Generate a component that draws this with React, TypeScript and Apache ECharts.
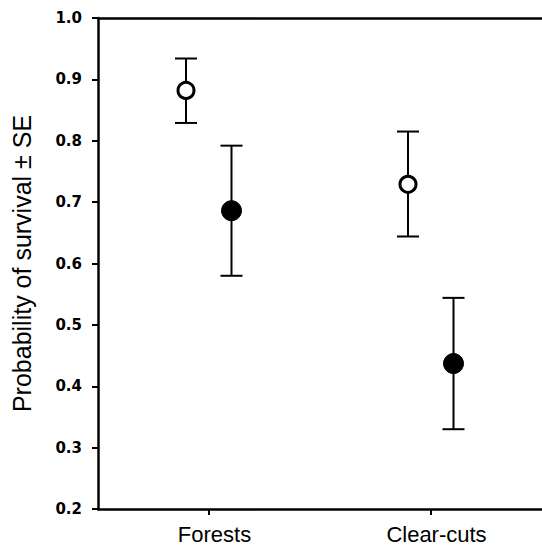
import React, { useEffect, useRef } from "react";
import * as echarts from "echarts";

const categories = ["Forests", "Clear-cuts"];
const yTicks = [0.2, 0.3, 0.4, 0.5, 0.6, 0.7, 0.8, 0.9, 1.0];

// open circles (first group)
const openMean = [0.882, 0.729];
const openLow = [0.829, 0.644];
const openHigh = [0.934, 0.815];

// filled circles (second group)
const filledMean = [0.686, 0.437];
const filledLow = [0.58, 0.33];
const filledHigh = [0.792, 0.544];

const OPEN_OFFSET = -23;
const FILLED_OFFSET = 22.5;
const CAP = 11;

function makeSeries(mean: number[], low: number[], high: number[], offset: number, filled: boolean, radius: number) {
  return {
    type: "custom",
    data: mean.map((m, i) => [i, m, low[i], high[i]]),
    encode: { x: 0, y: [1, 2, 3] },
    renderItem: (params: any, api: any) => {
      const xi = api.value(0);
      const pm = api.coord([xi, api.value(1)]);
      const pl = api.coord([xi, api.value(2)]);
      const ph = api.coord([xi, api.value(3)]);
      const x = pm[0] + offset;
      const lineStyle = { stroke: "#000", lineWidth: 2 };
      return {
        type: "group",
        children: [
          { type: "line", shape: { x1: x, y1: pl[1], x2: x, y2: ph[1] }, style: lineStyle },
          { type: "line", shape: { x1: x - CAP, y1: ph[1], x2: x + CAP, y2: ph[1] }, style: lineStyle },
          { type: "line", shape: { x1: x - CAP, y1: pl[1], x2: x + CAP, y2: pl[1] }, style: lineStyle },
          {
            type: "circle",
            shape: { cx: x, cy: pm[1], r: radius },
            style: filled
              ? { fill: "#000", stroke: "#000", lineWidth: 1 }
              : { fill: "#fff", stroke: "#000", lineWidth: 3 },
          },
        ],
      };
    },
  };
}

export default function App() {
  const ref = useRef<HTMLDivElement>(null);
  useEffect(() => {
    if (!ref.current) return;
    const chart = echarts.init(ref.current, null, { renderer: "svg" });
    chart.setOption({
      animation: false,
      grid: { left: 98, right: -6, top: 18, bottom: 37 },
      xAxis: [
        {
          type: "category",
          data: categories,
          position: "bottom",
          axisLine: { show: true, lineStyle: { color: "#000", width: 2.5 } },
          axisTick: { show: true, alignWithLabel: true, length: 6, lineStyle: { color: "#000", width: 2 } },
          axisLabel: {
            color: "#000",
            fontFamily: "Liberation Sans, Arial",
            fontSize: 22,
            margin: 14,
            padding: [0, 0, 0, 11],
          },
          splitLine: { show: false },
        },
        {
          type: "category",
          data: categories,
          position: "top",
          axisLine: { show: true, lineStyle: { color: "#000", width: 2.5 } },
          axisTick: { show: false },
          axisLabel: { show: false },
          splitLine: { show: false },
        },
      ],
      yAxis: {
        type: "value",
        min: 0.2,
        max: 1.0,
        interval: 0.1,
        name: "Probability of survival ± SE",
        nameLocation: "middle",
        nameGap: 64,
        nameTextStyle: { color: "#000", fontFamily: "Liberation Sans, Arial", fontSize: 25 },
        axisLine: { show: true, lineStyle: { color: "#000", width: 2.5 } },
        axisTick: { show: true, length: 6, lineStyle: { color: "#000", width: 2 } },
        axisLabel: {
          color: "#000",
          fontFamily: "DejaVu Sans",
          fontWeight: "bold",
          fontSize: 15,
          margin: 16,
          formatter: (v: number) => {
            const t = yTicks.find((k) => Math.abs(k - v) < 1e-6);
            return t !== undefined ? t.toFixed(1) : "";
          },
        },
        splitLine: { show: false },
      },
      series: [
        makeSeries(openMean, openLow, openHigh, OPEN_OFFSET, false, 8),
        makeSeries(filledMean, filledLow, filledHigh, FILLED_OFFSET, true, 10),
      ],
    });
    return () => chart.dispose();
  }, []);
  return <div ref={ref} style={{ position: "fixed", left: 0, top: 0, width: 542, height: 546, background: "#fff" }} />;
}
